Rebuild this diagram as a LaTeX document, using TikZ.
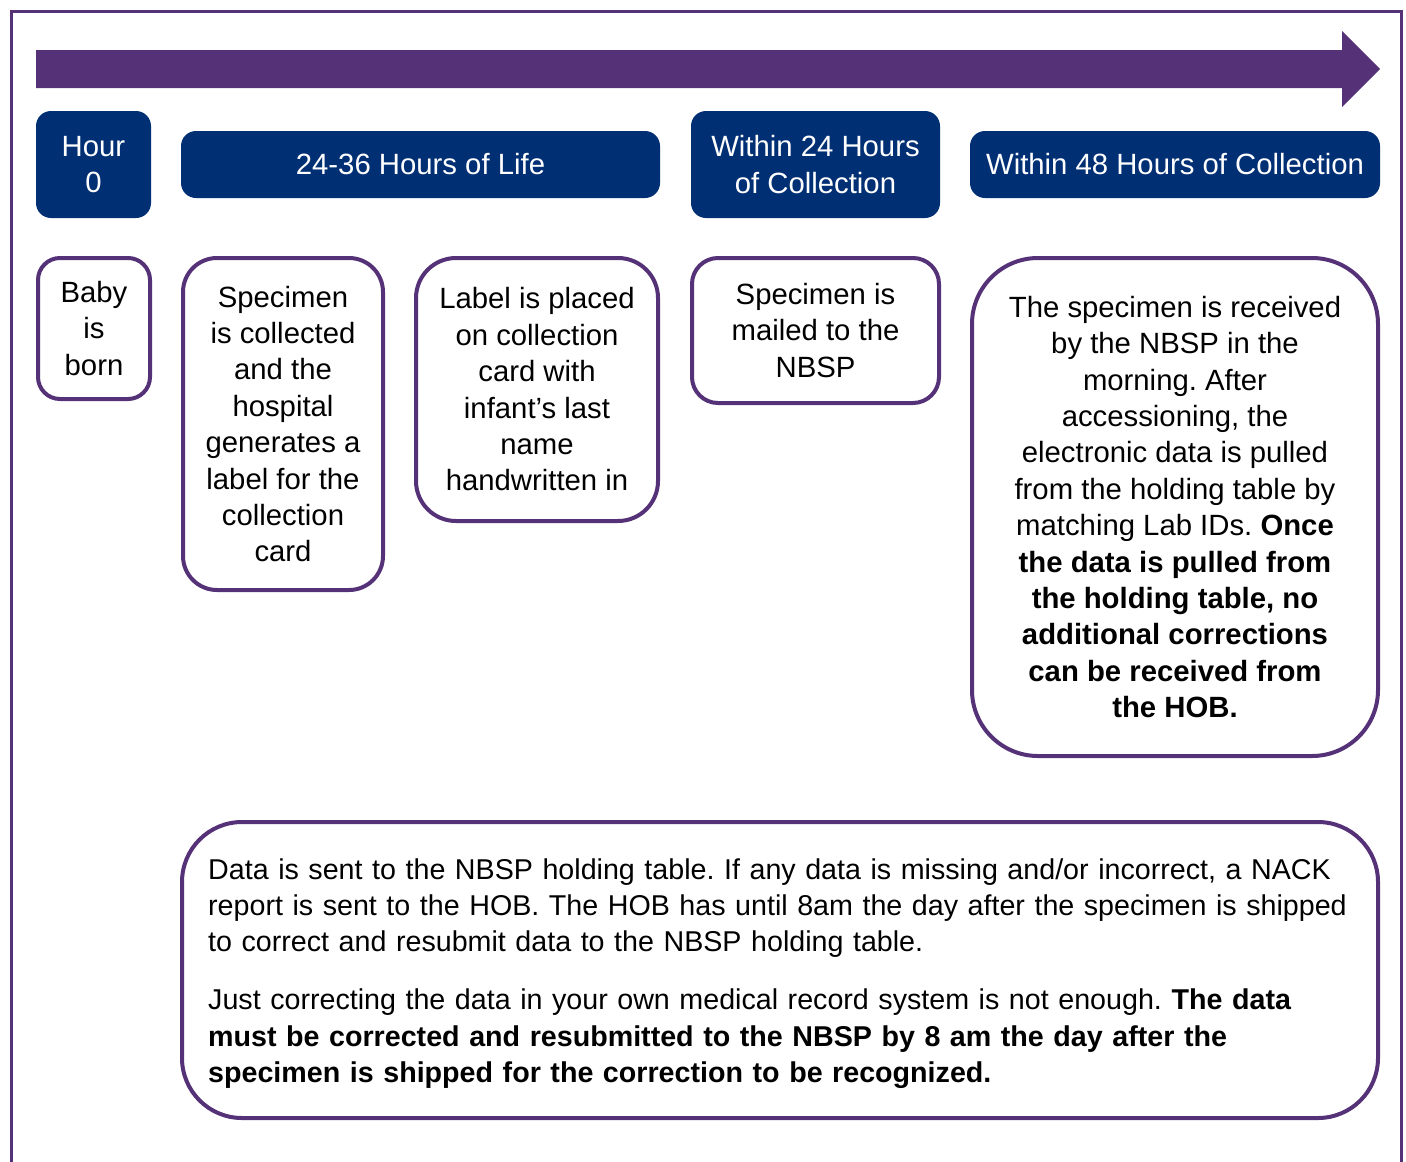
\documentclass[tikz,border=0pt]{standalone}
\usepackage{fontspec}
\setmainfont{Liberation Sans}
\frenchspacing
\usepackage{tikz}
\tikzset{>=latex}
\usetikzlibrary{positioning}
\definecolor{nbsppurple}{RGB}{85,49,119}
\definecolor{nbspnavy}{RGB}{0,47,116}
\tikzset{
  hdr/.style={fill=nbspnavy, draw=none, rounded corners=15pt, text=white, align=center,
    font=\fontsize{29.3}{36.4}\selectfont, inner sep=0pt},
  card/.style={fill=white, draw=nbsppurple, line width=4pt, align=center, text=black,
    font=\fontsize{29.3}{36.4}\selectfont, inner sep=0pt}
}

\begin{document}
\begin{tikzpicture}[x=1pt,y=-1pt]
                    \useasboundingbox (0,0) rectangle (1406,1162);
                    \draw[nbsppurple, line width=3pt] (11,1162) -- (11,11) -- (1401,11) -- (1401,1162);
                    \fill[nbsppurple] (36,50) -- (1342,50) -- (1342,31) -- (1380,69) -- (1342,107) -- (1342,88) -- (36,88) -- cycle;
                    \node[hdr, minimum width=115, minimum height=107] (hour) at (93.5,164.5) {Hour\\0};
                    \node[hdr, minimum width=479, minimum height=67] (life) at (420.5,164.5) {24-36 Hours of Life};
                    \node[hdr, minimum width=249, minimum height=107] (within24) at (815.5,164.5) {Within 24 Hours\\of Collection};
                    \node[hdr, minimum width=410, minimum height=67] (within48) at (1175,164.5) {Within 48 Hours of Collection};
                    \node[card, rounded corners=22pt, minimum width=112, minimum height=141] (born) at (94,328.5) {Baby\\is\\born};
                    \node[card, rounded corners=34pt, minimum width=200, minimum height=332] (collected) at (283,424) {Specimen\\is collected\\and the\\hospital\\generates a\\label for the\\collection\\card};
                    \node[card, rounded corners=40pt, minimum width=242, minimum height=263] (placed) at (537,389.5) {Label is placed\\on collection\\card with\\infant’s last\\name\\handwritten in};
                    \node[card, rounded corners=26pt, minimum width=247, minimum height=145] (mailed) at (815.5,330.5) {Specimen is\\mailed to the\\NBSP};
                    \node[card, rounded corners=66pt, minimum width=406, minimum height=498] (received) at (1175,507) {The specimen is received\\by the NBSP in the\\morning. After\\accessioning, the\\electronic data is pulled\\from the holding table by\\matching Lab IDs. \textbf{Once}\\\textbf{the data is pulled from}\\\textbf{the holding table, no}\\\textbf{additional corrections}\\\textbf{can be received from}\\\textbf{the HOB.}};
                    \node[card, rounded corners=60pt, minimum width=1196, minimum height=296] (holding) at (780,970) {};
                    \node[anchor=west, text width=1170, align=left, inner sep=0pt, font=\fontsize{28.65}{36.2}\selectfont] (holdingtext) at (208,973.5) {Data is sent to the NBSP holding table. If any data is missing and/or incorrect, a NACK\\report is sent to the HOB. The HOB has until 8am the day after the specimen is shipped\\to correct and resubmit data to the NBSP holding table.\\[22pt]Just correcting the data in your own medical record system is not enough. \textbf{The data}\\\textbf{must be corrected and resubmitted to the NBSP by 8 am the day after the}\\\textbf{specimen is shipped for the correction to be recognized.}};
                \end{tikzpicture}
\end{document}
